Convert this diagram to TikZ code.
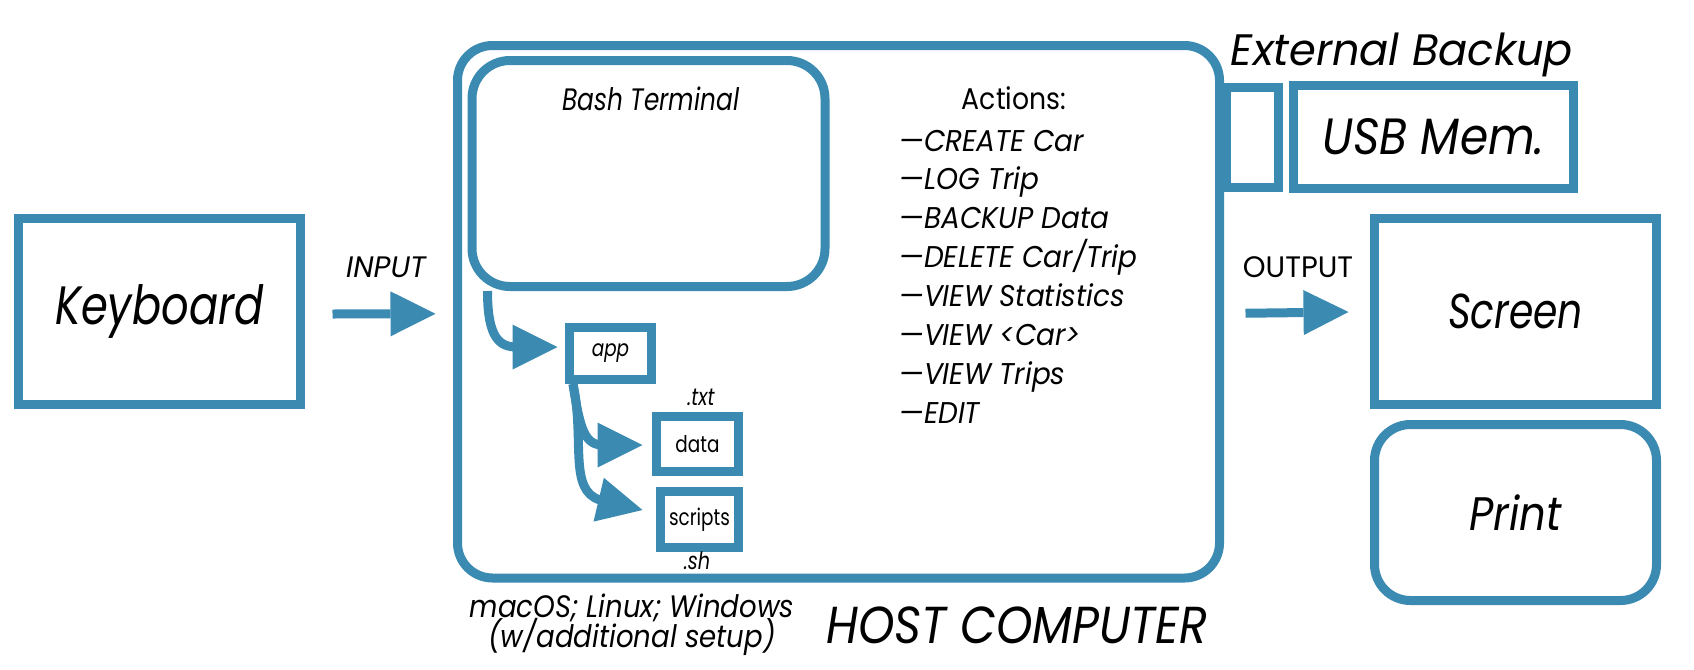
\documentclass[tikz,border=0pt]{standalone}
\usepackage{fontspec}
\newfontfamily\fa{Poppins}[FakeStretch=0.80]
\newfontfamily\fb{Poppins}[FakeStretch=0.89]
\newfontfamily\fd{Poppins}[FakeStretch=0.93]
\newfontfamily\fc{Poppins}[FakeStretch=0.98]
\usetikzlibrary{arrows.meta,calc}
\definecolor{hostblue}{HTML}{3B8AB1}
\begin{document}
\begin{tikzpicture}[x=0.5pt,y=-0.5pt,
  box/.style={draw=hostblue,line width=4.5pt,inner sep=0pt,align=center},
  rbox/.style={box,rounded corners=#1},
  arr/.style={draw=hostblue,line width=4.5pt,-{Triangle[length=22.5pt,width=22.5pt,line width=0pt]}},
  tiny/.style={font=\fa\fontsize{11.5}{14}\selectfont},
  lbl/.style={inner sep=0pt,anchor=base}]
\fill[white] (0,0) rectangle (1694,670);
\useasboundingbox (0,0) rectangle (1694,670);
% boxes
\node[box,minimum width=141pt,minimum height=93pt,font=\fa\fontsize{27}{30}\selectfont\itshape] (kb) at (159.5,311.5) {Keyboard};
\node[rbox=17.5pt,minimum width=381pt,minimum height=266.25pt] (host) at (838.5,311.75) {};
\node[rbox=19pt,minimum width=176.5pt,minimum height=113pt] (bash) at (648.5,173.5) {};
\node[box,minimum width=41pt,minimum height=26pt,tiny] (app) at (610.5,353.5) {\itshape app};
\node[box,minimum width=41pt,minimum height=27.5pt,tiny] (data) at (697.5,444) {data};
\node[box,minimum width=39pt,minimum height=27.75pt,tiny] (scripts) at (699.5,519.25) {scripts};
\node[box,minimum width=26.25pt,minimum height=50pt] (port) at (1252.25,137.5) {};
\node[box,minimum width=140pt,minimum height=51.5pt,font=\fb\fontsize{25.5}{28}\selectfont\itshape] (usb) at (1433.5,137) {USB Mem.};
\node[box,minimum width=141pt,minimum height=93pt,font=\fa\fontsize{24.5}{28}\selectfont\itshape] (screen) at (1515.5,311.5) {Screen};
\node[rbox=18pt,minimum width=141pt,minimum height=88pt,font=\fb\fontsize{23.5}{28}\selectfont\itshape] (print) at (1515.5,512.5) {Print};
% labels
\node[lbl,font=\fa\fontsize{15.5}{18}\selectfont\itshape] (bashlbl) at (651,110) {Bash Terminal};
\node[lbl,font=\fb\fontsize{15}{18}\selectfont] (actions) at (1014,109) {Actions:};
\foreach \t [count=\i] in {CREATE Car,LOG Trip,BACKUP Data,DELETE Car/Trip,VIEW Statistics,VIEW <Car>,VIEW Trips,EDIT}
  \node[lbl,anchor=base west,font=\fd\fontsize{15}{18}\selectfont\itshape] (act\i) at (899,{151+38.9*(\i-1)}) {—\t};
\node[lbl,font=\fc\fontsize{14.8}{17}\selectfont\itshape] (input) at (386,277) {INPUT};
\node[lbl,font=\fc\fontsize{14.8}{17}\selectfont] (output) at (1298,277) {OUTPUT};
\node[lbl,font=\fa\fontsize{12}{15}\selectfont\itshape] (txt) at (701,405) {.txt};
\node[lbl,font=\fa\fontsize{12}{15}\selectfont\itshape] (sh) at (697,569) {.sh};
\node[lbl,font=\fb\fontsize{15.5}{18}\selectfont\itshape] (os1) at (632,617) {macOS; Linux; Windows};
\node[lbl,font=\fb\fontsize{15.5}{18}\selectfont\itshape] (os2) at (632,647) {(w/additional setup)};
\node[lbl,font=\fb\fontsize{26}{30}\selectfont\itshape] (hostlbl) at (1017,643) {HOST COMPUTER};
\node[lbl,font=\fc\fontsize{22}{26}\selectfont\itshape] (extlbl) at (1402,65) {External Backup};
% arrows
\draw[arr] ($(kb.east)+(27.5,2.5)$) -- ($(host.west)+(-17.5,2)$);
\draw[arr] ($(host.east)+(21.5,1.5)$) -- ($(screen.west)+(-21.5,0.5)$);
\draw[arr] ($(bash.south west)+(20,0)$) .. controls +(0,48) and (500,347) .. (517,347) -- ($(app.west)+(-7.5,-6.5)$);
\draw[arr] ($(app.south west)+(8,0)$) .. controls (580,430) and (585,445) .. (603,445) -- ($(data.west)+(-9.5,1)$);
\draw[arr] ($(app.south west)+(8,0)$) .. controls (585,440) and (568,490) .. (600,500) -- ($(scripts.west)+(-13.5,-9.25)$);
\end{tikzpicture}
\end{document}
